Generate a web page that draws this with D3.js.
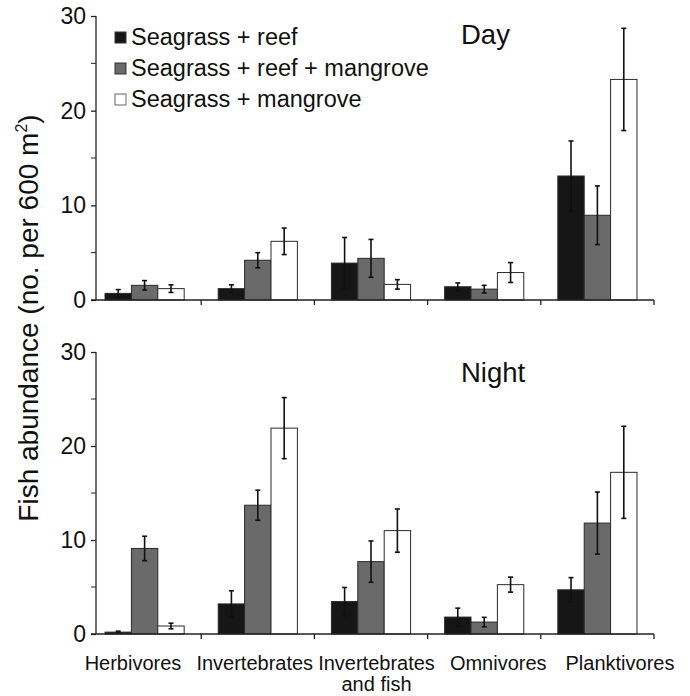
<!DOCTYPE html>
<html>
<head>
<meta charset="utf-8">
<script src="https://cdn.jsdelivr.net/npm/d3@7"></script>
<style>
  body { margin: 0; background: #fff; }
  svg { display: block; font-family: "Liberation Sans", Arial, sans-serif; }
</style>
</head>
<body>
<div id="chart"></div>
<script>

// categories and series
var categories = ["Herbivores", "Invertebrates", "Invertebrates and fish", "Omnivores", "Planktivores"];
var catLabels = [["Herbivores"], ["Invertebrates"], ["Invertebrates", "and fish"], ["Omnivores"], ["Planktivores"]];
var series = ["Seagrass + reef", "Seagrass + reef + mangrove", "Seagrass + mangrove"];
var seriesColors = ["#161616", "#6a6a6a", "#ffffff"];

// Day: mean and error per series (order follows categories)
var dayReef      = [0.7, 1.2, 3.9, 1.4, 13.1];
var dayReefErr   = [0.4, 0.4, 2.7, 0.4, 3.7];
var dayReefMang    = [1.55, 4.2, 4.4, 1.15, 8.95];
var dayReefMangErr = [0.5, 0.8, 2.0, 0.4, 3.1];
var dayMang      = [1.2, 6.2, 1.65, 2.9, 23.3];
var dayMangErr   = [0.4, 1.4, 0.5, 1.05, 5.4];

// Night
var nightReef      = [0.2, 3.2, 3.45, 1.8, 4.7];
var nightReefErr   = [0.1, 1.4, 1.5, 0.95, 1.3];
var nightReefMang    = [9.1, 13.7, 7.7, 1.27, 11.8];
var nightReefMangErr = [1.3, 1.6, 2.2, 0.5, 3.3];
var nightMang      = [0.85, 21.9, 11.0, 5.25, 17.2];
var nightMangErr   = [0.3, 3.25, 2.3, 0.8, 4.9];

var yTicks = [0, 10, 20, 30];
var yMinorTicks = [5, 15, 25];

var W = 690, H = 696;
var svg = d3.select("#chart").append("svg")
  .attr("width", W).attr("height", H);

var axisLeftX = 96;

// x scales
var x = d3.scaleBand().domain(categories).range([88, 654]).paddingInner(0).paddingOuter(0);
var xInner = d3.scaleBand().domain(series).range([0, x.bandwidth()]).paddingOuter(0.645);
var xLabel = d3.scalePoint().domain(categories).range([133, 620]);

function panel(top, bottom, title, means, errs) {
  var y = d3.scaleLinear().domain([0, 30]).range([bottom, top]);
  var g = svg.append("g");

  var rows = [];
  categories.forEach(function(c, i) {
    series.forEach(function(s, j) {
      rows.push({cat: c, ser: s, v: means[j][i], e: errs[j][i], col: seriesColors[j]});
    });
  });

  // bars
  g.selectAll("rect.bar").data(rows).enter().append("rect")
    .attr("class", "bar")
    .attr("x", function(d) { return x(d.cat) + xInner(d.ser); })
    .attr("y", function(d) { return y(d.v); })
    .attr("width", xInner.bandwidth())
    .attr("height", function(d) { return y(0) - y(d.v); })
    .attr("fill", function(d) { return d.col; })
    .attr("stroke", "#2a2a2a")
    .attr("stroke-width", 1);

  // error bars
  var eb = g.selectAll("g.err").data(rows).enter().append("g").attr("class", "err")
    .attr("transform", function(d) { return "translate(" + (x(d.cat) + xInner(d.ser) + xInner.bandwidth() / 2) + ",0)"; });
  eb.append("line")
    .attr("y1", function(d) { return y(Math.max(0, d.v - d.e)); })
    .attr("y2", function(d) { return y(d.v + d.e); })
    .attr("stroke", "#111").attr("stroke-width", 1.6);
  eb.append("line")
    .attr("x1", -2.5).attr("x2", 2.5)
    .attr("y1", function(d) { return y(d.v + d.e); })
    .attr("y2", function(d) { return y(d.v + d.e); })
    .attr("stroke", "#111").attr("stroke-width", 1.6);
  eb.append("line")
    .attr("x1", -2.5).attr("x2", 2.5)
    .attr("y1", function(d) { return y(Math.max(0, d.v - d.e)); })
    .attr("y2", function(d) { return y(Math.max(0, d.v - d.e)); })
    .attr("stroke", "#111").attr("stroke-width", 1.6);

  // y axis
  var ya = g.append("g").attr("transform", "translate(" + axisLeftX + ",0)")
    .call(d3.axisLeft(y).tickValues(yTicks).tickSize(5).tickPadding(5));
  ya.append("g").selectAll("line").data(yMinorTicks).enter().append("line")
    .attr("x1", -5).attr("x2", 0)
    .attr("y1", function(d) { return y(d); }).attr("y2", function(d) { return y(d); })
    .attr("stroke", "#222");
  ya.select(".domain").attr("d", "M-0," + y(30) + "H0V" + y(0)).attr("stroke", "#222").attr("stroke-width", 1.3);
  ya.selectAll(".tick line").attr("stroke", "#222").attr("stroke-width", 1.3);
  ya.selectAll("text").attr("font-size", 23).attr("fill", "#111")
    .attr("font-family", "Liberation Sans, Arial, sans-serif");

  // x axis: line with ticks at category boundaries
  var xr = x.range();
  g.append("line")
    .attr("x1", axisLeftX - 5).attr("x2", xr[1])
    .attr("y1", y(0)).attr("y2", y(0))
    .attr("stroke", "#222").attr("stroke-width", 1.3);
  g.selectAll("line.xt").data(categories).enter().append("line")
    .attr("class", "xt")
    .attr("x1", function(d) { return x(d) + x.bandwidth(); })
    .attr("x2", function(d) { return x(d) + x.bandwidth(); })
    .attr("y1", y(0)).attr("y2", y(0) + 5)
    .attr("stroke", "#222").attr("stroke-width", 1.3);

  // panel title
  g.append("text")
    .attr("x", 461).attr("y", title.y)
    .attr("font-size", 27.5).attr("fill", "#111")
    .text(title.text);

  return y;
}

var yDay = panel(16, 300, {text: "Day", y: 44},
  [dayReef, dayReefMang, dayMang], [dayReefErr, dayReefMangErr, dayMangErr]);
var yNight = panel(352, 634, {text: "Night", y: 382},
  [nightReef, nightReefMang, nightMang], [nightReefErr, nightReefMangErr, nightMangErr]);

// category labels
var lab = svg.append("g").selectAll("text").data(categories).enter().append("text")
  .attr("x", function(d) { return xLabel(d); })
  .attr("y", 670)
  .attr("text-anchor", "middle")
  .attr("font-size", 20).attr("fill", "#111");
lab.selectAll("tspan").data(function(d, i) { return catLabels[i]; }).enter().append("tspan")
  .attr("x", function() { return xLabel(d3.select(this.parentNode).datum()); })
  .attr("dy", function(d, i) { return i === 0 ? 0 : 21; })
  .text(function(d) { return d; });

// legend
var leg = svg.append("g").selectAll("g").data(series).enter().append("g")
  .attr("transform", function(d, i) { return "translate(115," + (32 + i * 31) + ")"; });
leg.append("rect")
  .attr("width", 11).attr("height", 11)
  .attr("fill", function(d, i) { return seriesColors[i]; })
  .attr("stroke", function(d, i) { return i === 2 ? "#666" : "#333"; })
  .attr("stroke-width", 1);
leg.append("text")
  .attr("x", 16).attr("y", 13)
  .attr("font-size", 23.5).attr("fill", "#111")
  .text(function(d) { return d; });

// y axis title
var yt = svg.append("text")
  .attr("transform", "translate(38,318) rotate(-90)")
  .attr("text-anchor", "middle")
  .attr("font-size", 28).attr("fill", "#111");
yt.append("tspan").text("Fish abundance (no. per 600 m");
yt.append("tspan").attr("font-size", 16).attr("dy", -11).text("2");
yt.append("tspan").attr("dy", 11).text(")");

</script>
</body>
</html>
